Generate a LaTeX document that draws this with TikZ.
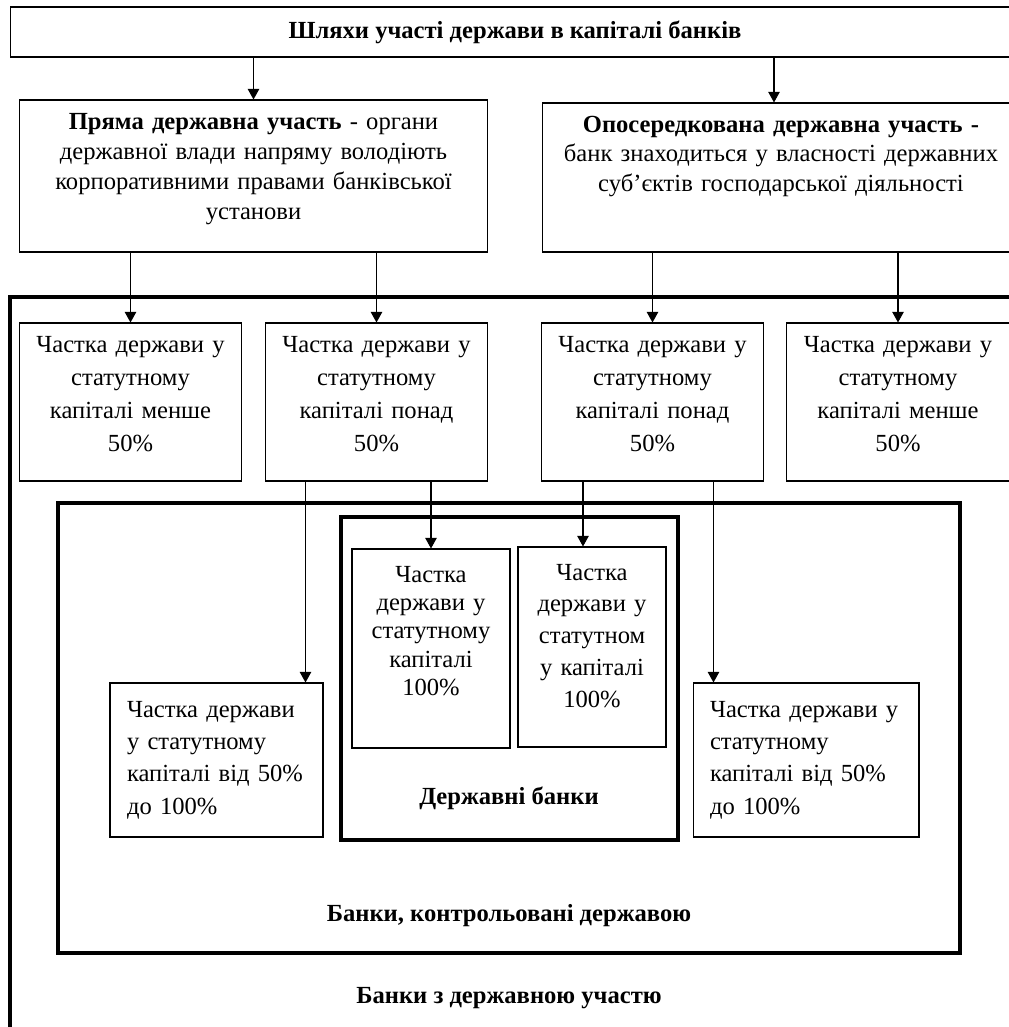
\documentclass[tikz,border=0pt]{standalone}
\usepackage{fontspec}
\setmainfont{Liberation Serif}
\usetikzlibrary{arrows.meta,calc}

\newcommand{\fs}[1]{\fontsize{14}{#1}\selectfont}
\newcommand{\dn}[1]{\rule[-#1]{0pt}{#1}}

\tikzstyle{bx} = [rectangle, draw=black, line width=0.6pt, inner sep=0pt, align=center]
\tikzstyle{bxl} = [bx, align=left]
\tikzstyle{sh} = [bx, minimum width=4.45cm, minimum height=3.16cm, text width=4.3cm, font=\fs{18.7}]
\tikzstyle{frm} = [rectangle, draw=black, line width=2.3pt, inner sep=0pt]
\tikzstyle{lbl} = [inner sep=0pt, font=\bfseries\fs{17}]

\begin{document}
\begin{tikzpicture}[x=0.02cm, y=-0.02cm, arr/.style={-{Triangle[length=6pt,width=6.5pt]}, line width=0.6pt}]
\useasboundingbox (0,0) rectangle (1008,1027);

% frames
\node[frm, minimum width=20.3cm, minimum height=14.96cm] (F) at (517.5,671) {};
\node[lbl] (Fl) at (509,998) {Банки з державною участю};

\node[frm, minimum width=18.04cm, minimum height=9cm] (K) at (509,728) {};
\node[lbl] (Kl) at (509,916) {Банки, контрольовані державою};

\node[frm, line width=2.7pt, minimum width=6.74cm, minimum height=6.46cm] (S) at (509.5,678.5) {};
\node[lbl] (Sl) at (509,798) {Державні банки};

% top levels
\node[bx, minimum width=20.2cm, minimum height=1cm, font=\bfseries\fs{17}] (T) at (515,32) {Шляхи участі держави в капіталі банків};

\node[bx, minimum width=9.38cm, minimum height=3.04cm, text width=9.2cm, font=\fs{17}] (P) at (253.5,176) {\textbf{Пряма державна участь} - органи\\ державної влади напряму володіють\\ корпоративними правами банківської\\ установи\dn{11pt}};

\node[bx, minimum width=9.56cm, minimum height=2.98cm, text width=9.4cm, font=\fs{17}] (O) at (781,177.5) {\textbf{Опосередкована державна участь -}\\ банк знаходиться у власності державних\\ суб’єктів господарської діяльності\dn{27pt}};

% shares
\node[sh] (A) at (130.5,402) {Частка держави у\\ статутному\\ капіталі менше\\ 50\%\dn{9pt}};
\node[sh] (B) at (376.5,402) {Частка держави у\\ статутному\\ капіталі понад\\ 50\%\dn{9pt}};
\node[sh] (C) at (652.5,402) {Частка держави у\\ статутному\\ капіталі понад\\ 50\%\dn{9pt}};
\node[sh] (D) at (898,402) {Частка держави у\\ статутному\\ капіталі менше\\ 50\%\dn{9pt}};

\node[bx, minimum width=3.16cm, minimum height=3.98cm, text width=3.1cm, font=\fs{16.2}] (I1) at (431,648.5) {Частка\\ держави у\\ статутному\\ капіталі\\ 100\%\dn{20pt}};
\node[bx, minimum width=2.96cm, minimum height=4cm, text width=2.9cm, font=\fs{18.1}] (I2) at (592,647) {Частка\\ держави у\\ статутном\\ у капіталі\\ 100\%\dn{13pt}};

\node[bxl, minimum width=4.26cm, minimum height=3.08cm, text width=3.58cm, font=\fs{18.4}] (L) at (216.5,760) {Частка держави\\ у статутному\\ капіталі від 50\%\\ до 100\%};
\node[bxl, minimum width=4.52cm, minimum height=3.08cm, text width=3.84cm, font=\fs{18.4}] (R) at (806,760) {Частка держави у\\ статутному\\ капіталі від 50\%\\ до 100\%};

\coordinate (o1) at ($(O.north)+(-7,0)$);
\coordinate (l1) at ($(L.north east)+(-18,0)$);
\coordinate (i2) at ($(I2.north)+(-9,0)$);
\coordinate (r1) at ($(R.north west)+(21,0)$);

\path[arr]
    (P.north |- T.south) edge (P.north)
    (o1 |- T.south) edge (o1)
    (A.north |- P.south) edge (A.north)
    (B.north |- P.south) edge (B.north)
    (C.north |- O.south) edge (C.north)
    (D.north |- O.south) edge (D.north)
    (l1 |- B.south) edge (l1)
    (I1.north |- B.south) edge (I1.north)
    (i2 |- C.south) edge (i2)
    (r1 |- C.south) edge (r1)
    ;

\end{tikzpicture}
\end{document}
